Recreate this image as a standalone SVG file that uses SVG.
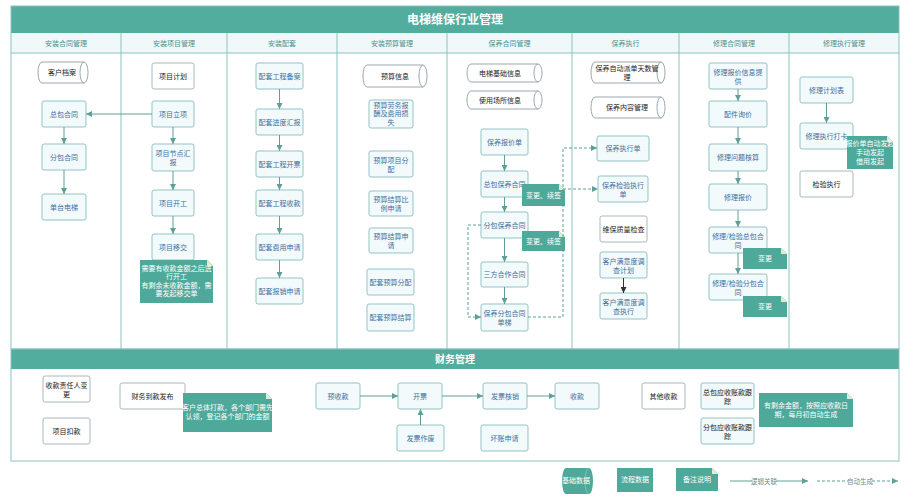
<svg xmlns="http://www.w3.org/2000/svg" width="909" height="500" viewBox="0 0 909 500">
<style>
.bg{fill:#ffffff}
.frame{fill:none;stroke:#8cc3bf;stroke-width:1}
.bar{fill:#52ad9f}
.hdr{fill:#eff9fa}
.box{fill:#f2fafb;stroke:#93c3c4;stroke-width:1}
.wbox{fill:#ffffff;stroke:#aab8bb;stroke-width:1}
.cyl{fill:#ffffff;stroke:#9aa9ad;stroke-width:1}
.note{fill:#4fa99a}
.fold{fill:#dcefd6}
.t{font-family:"Noto Sans CJK SC","Noto Sans",sans-serif;font-size:7px;fill:#3f6fa0;text-anchor:middle}
.tk{fill:#222222}
.tw{fill:#ffffff}
.th{font-family:"Noto Sans CJK SC","Noto Sans",sans-serif;font-size:7px;fill:#4f8f8b;text-anchor:middle}
.title{font-family:"Noto Sans CJK SC","Noto Sans",sans-serif;font-weight:bold;fill:#ffffff;text-anchor:middle}
.lg{font-family:"Noto Sans CJK SC","Noto Sans",sans-serif;font-size:6.5px;fill:#6a8f8c;text-anchor:middle}
.arr{stroke:#5f9f97;stroke-width:1;fill:none;marker-end:url(#ah)}
.arrk{stroke:#333333;stroke-width:1;fill:none;marker-end:url(#ahk)}
.dash{stroke-dasharray:3 2}
</style>
<defs>
<marker id="ah" markerWidth="6" markerHeight="6" refX="6" refY="3" orient="auto" markerUnits="userSpaceOnUse"><path d="M0,0 L6,3 L0,6 z" fill="#5f9f97"/></marker>
<marker id="ahk" markerWidth="6" markerHeight="6" refX="6" refY="3" orient="auto" markerUnits="userSpaceOnUse"><path d="M0,0 L6,3 L0,6 z" fill="#333333"/></marker>
</defs>
<rect class="bg" x="0" y="0" width="909" height="500"/>

<!-- frames -->
<g id="frame-top">
<rect class="bar" x="11" y="6" width="888" height="27"/>
<rect class="hdr" x="11" y="33" width="888" height="20"/>
<rect class="frame" x="11" y="6" width="888" height="343"/>
<line class="frame" x1="11" y1="53" x2="899" y2="53"/>
<line class="frame" x1="121" y1="33" x2="121" y2="349"/>
<line class="frame" x1="227" y1="33" x2="227" y2="349"/>
<line class="frame" x1="337" y1="33" x2="337" y2="349"/>
<line class="frame" x1="447" y1="33" x2="447" y2="349"/>
<line class="frame" x1="572" y1="33" x2="572" y2="349"/>
<line class="frame" x1="679" y1="33" x2="679" y2="349"/>
<line class="frame" x1="789" y1="33" x2="789" y2="349"/>
<text class="title" x="455" y="24" font-size="12">电梯维保行业管理</text>
<text class="th" x="66" y="46">安装合同管理</text>
<text class="th" x="174" y="46">安装项目管理</text>
<text class="th" x="282" y="46">安装配套</text>
<text class="th" x="392" y="46">安装预算管理</text>
<text class="th" x="509.5" y="46">保养合同管理</text>
<text class="th" x="625.5" y="46">保养执行</text>
<text class="th" x="734" y="46">修理合同管理</text>
<text class="th" x="844" y="46">修理执行管理</text>
</g>
<g id="frame-finance">
<rect class="bar" x="11" y="349" width="888" height="20"/>
<rect class="frame" x="11" y="349" width="888" height="112"/>
<text class="title" x="455" y="363" font-size="10">财务管理</text>
</g>

<!-- column 1 -->
<g id="n-khda"><path class="cyl" d="M42,62 H84 A4,10.5 0 0 1 84,83 H42 A4,10.5 0 0 1 42,62 Z M84,62 A4,10.5 0 0 0 84,83"/><text class="t tk" x="62" y="75">客户档案</text></g>
<g id="n-zbht"><rect class="box" x="42" y="101" width="44" height="26" rx="2"/><text class="t" x="64" y="116.5">总包合同</text></g>
<g id="n-fbht"><rect class="box" x="42" y="144" width="44" height="26" rx="2"/><text class="t" x="64" y="159.5">分包合同</text></g>
<g id="n-dtdt"><rect class="box" x="42" y="194" width="44" height="26" rx="2"/><text class="t" x="64" y="209.5">单台电梯</text></g>

<!-- column 2 -->
<g id="n-xmjh"><rect class="wbox" x="152" y="63" width="42" height="26" rx="2"/><text class="t tk" x="173" y="78.5">项目计划</text></g>
<g id="n-xmlx"><rect class="box" x="152" y="101" width="42" height="26" rx="2"/><text class="t" x="173" y="116.5">项目立项</text></g>
<g id="n-xmjd"><rect class="box" x="152" y="144" width="42" height="27" rx="2"/><text class="t" x="173" y="155.5">项目节点汇<tspan x="173" dy="9">报</tspan></text></g>
<g id="n-xmkg"><rect class="box" x="152" y="190" width="42" height="26" rx="2"/><text class="t" x="173" y="205.5">项目开工</text></g>
<g id="n-xmyj"><rect class="box" x="152" y="234" width="42" height="26" rx="2"/><text class="t" x="173" y="249.5">项目移交</text></g>
<g id="note-xmyj"><path class="note" d="M140,260 H207 L213,266 V303 H140 Z"/><path class="fold" d="M207,260 L213,266 H207 Z"/><text class="t tw" font-size="6.5" x="176.5" y="270.5">需要有收款金额之后进<tspan x="176.5" dy="8.5">行开工</tspan><tspan x="176.5" dy="8.5">有剩余未收款金额，需</tspan><tspan x="176.5" dy="8.5">要发起移交单</tspan></text></g>

<!-- column 3 -->
<g id="n-pt1"><rect class="box" x="256" y="63" width="47" height="26" rx="2"/><text class="t" x="279.5" y="78.5">配套工程备案</text></g>
<g id="n-pt2"><rect class="box" x="256" y="109" width="47" height="26" rx="2"/><text class="t" x="279.5" y="124.5">配套进度汇报</text></g>
<g id="n-pt3"><rect class="box" x="256" y="151" width="47" height="26" rx="2"/><text class="t" x="279.5" y="166.5">配套工程开票</text></g>
<g id="n-pt4"><rect class="box" x="256" y="190" width="47" height="26" rx="2"/><text class="t" x="279.5" y="205.5">配套工程收款</text></g>
<g id="n-pt5"><rect class="box" x="256" y="234" width="47" height="26" rx="2"/><text class="t" x="279.5" y="249.5">配套费用申请</text></g>
<g id="n-pt6"><rect class="box" x="256" y="278" width="47" height="26" rx="2"/><text class="t" x="279.5" y="293.5">配套报销申请</text></g>

<!-- column 4 -->
<g id="n-ysxx"><path class="cyl" d="M367,65 H423 A4,11 0 0 1 423,87 H367 A4,11 0 0 1 367,65 Z M423,65 A4,11 0 0 0 423,87"/><text class="t tk" x="395" y="78.5">预算信息</text></g>
<g id="n-ys1"><rect class="box" x="369" y="100" width="44" height="28" rx="2"/><text class="t" x="391" y="107.5">预算劳务报<tspan x="391" dy="8.5">酬及费用损</tspan><tspan x="391" dy="8.5">失</tspan></text></g>
<g id="n-ys2"><rect class="box" x="369" y="151" width="44" height="26" rx="2"/><text class="t" x="391" y="162.5">预算项目分<tspan x="391" dy="9">配</tspan></text></g>
<g id="n-ys3"><rect class="box" x="369" y="191" width="44" height="25" rx="2"/><text class="t" x="391" y="202">预算结算比<tspan x="391" dy="9">例申请</tspan></text></g>
<g id="n-ys4"><rect class="box" x="369" y="228" width="44" height="25" rx="2"/><text class="t" x="391" y="239">预算结算申<tspan x="391" dy="9">请</tspan></text></g>
<g id="n-ys5"><rect class="box" x="367" y="269" width="47" height="26" rx="2"/><text class="t" x="390.5" y="284.5">配套预算分配</text></g>
<g id="n-ys6"><rect class="box" x="367" y="304" width="47" height="27" rx="2"/><text class="t" x="390.5" y="320">配套预算结算</text></g>

<!-- column 5 -->
<g id="n-dtjc"><path class="cyl" d="M471,64 H538 A4,9 0 0 1 538,82 H471 A4,9 0 0 1 471,64 Z M538,64 A4,9 0 0 0 538,82"/><text class="t tk" x="500" y="75.5">电梯基础信息</text></g>
<g id="n-sycs"><path class="cyl" d="M471,91 H538 A4,9 0 0 1 538,109 H471 A4,9 0 0 1 471,91 Z M538,91 A4,9 0 0 0 538,109"/><text class="t tk" x="500" y="102.5">使用场所信息</text></g>
<g id="n-bybj"><rect class="box" x="481" y="129" width="47" height="26" rx="2"/><text class="t" x="504.5" y="144.5">保养报价单</text></g>
<g id="n-zbby"><rect class="box" x="481" y="171" width="47" height="26" rx="2"/><text class="t" x="504.5" y="186.5">总包保养合同</text></g>
<g id="note-zbby"><path class="note" d="M522,184 H559 L565,190 V206 H522 Z"/><path class="fold" d="M559,184 L565,190 H559 Z"/><text class="t tw" x="543.5" y="197.5">变更、续签</text></g>
<g id="n-fbby"><rect class="box" x="481" y="212" width="47" height="26" rx="2"/><text class="t" x="504.5" y="227.5">分包保养合同</text></g>
<g id="note-fbby"><path class="note" d="M522,231 H559 L565,237 V251 H522 Z"/><path class="fold" d="M559,231 L565,237 H559 Z"/><text class="t tw" x="543.5" y="243.5">变更、续签</text></g>
<g id="n-sfhz"><rect class="box" x="481" y="262" width="47" height="25" rx="2"/><text class="t" x="504.5" y="277">三方合作合同</text></g>
<g id="n-fbdt"><rect class="box" x="481" y="304" width="47" height="27" rx="2"/><text class="t" x="504.5" y="315.5">保养分包合同<tspan x="504.5" dy="9">单梯</tspan></text></g>

<!-- column 6 -->
<g id="n-pdts"><path class="cyl" d="M595,62 H661 A4,10.5 0 0 1 661,83 H595 A4,10.5 0 0 1 595,62 Z M661,62 A4,10.5 0 0 0 661,83"/><text class="t tk" x="627" y="71">保养自动派单天数管<tspan x="627" dy="9">理</tspan></text></g>
<g id="n-nrgl"><path class="cyl" d="M595,97 H661 A4,10.5 0 0 1 661,118 H595 A4,10.5 0 0 1 595,97 Z M661,97 A4,10.5 0 0 0 661,118"/><text class="t tk" x="627" y="110">保养内容管理</text></g>
<g id="n-byzx"><rect class="box" x="597" y="136" width="52" height="25" rx="2"/><text class="t" x="623" y="151">保养执行单</text></g>
<g id="n-byjy"><rect class="box" x="598" y="176" width="50" height="26" rx="2"/><text class="t" x="623" y="187.5">保养检验执行<tspan x="623" dy="9">单</tspan></text></g>
<g id="n-zljc"><rect class="wbox" x="600" y="216" width="47" height="26" rx="2"/><text class="t tk" x="623.5" y="231.5">维保质量检查</text></g>
<g id="n-mydjh"><rect class="box" x="600" y="252" width="47" height="26" rx="2"/><text class="t" x="623.5" y="263.5">客户满意度调<tspan x="623.5" dy="9">查计划</tspan></text></g>
<g id="n-mydzx"><rect class="box" x="600" y="293" width="47" height="26" rx="2"/><text class="t" x="623.5" y="304.5">客户满意度调<tspan x="623.5" dy="9">查执行</tspan></text></g>

<!-- column 7 -->
<g id="n-xlbjxx"><rect class="box" x="709" y="63" width="58" height="26" rx="2"/><text class="t" x="738" y="74.5">修理报价信息提<tspan x="738" dy="9">供</tspan></text></g>
<g id="n-pjxj"><rect class="box" x="709" y="101" width="58" height="26" rx="2"/><text class="t" x="738" y="116.5">配件询价</text></g>
<g id="n-xlhs"><rect class="box" x="709" y="144" width="58" height="27" rx="2"/><text class="t" x="738" y="160">修理问题核算</text></g>
<g id="n-xlbj"><rect class="box" x="709" y="184" width="58" height="26" rx="2"/><text class="t" x="738" y="199.5">修理报价</text></g>
<g id="n-xlzb"><rect class="box" x="709" y="227" width="58" height="26" rx="2"/><text class="t" x="738" y="238.5">修理/检验总包合<tspan x="738" dy="9">同</tspan></text></g>
<g id="note-xlzb"><path class="note" d="M743,248 H781 L787,254 V269 H743 Z"/><path class="fold" d="M781,248 L787,254 H781 Z"/><text class="t tw" x="765" y="261">变更</text></g>
<g id="n-xlfb"><rect class="box" x="709" y="274" width="58" height="26" rx="2"/><text class="t" x="738" y="285.5">修理/检验分包合<tspan x="738" dy="9">同</tspan></text></g>
<g id="note-xlfb"><path class="note" d="M743,296 H781 L787,302 V317 H743 Z"/><path class="fold" d="M781,296 L787,302 H781 Z"/><text class="t tw" x="765" y="309">变更</text></g>

<!-- column 8 -->
<g id="n-xljh"><rect class="box" x="800" y="77" width="53" height="26" rx="2"/><text class="t" x="826.5" y="92.5">修理计划表</text></g>
<g id="n-xldk"><rect class="box" x="800" y="123" width="53" height="26" rx="2"/><text class="t" x="826.5" y="138.5">修理执行打卡</text></g>
<g id="note-xldk"><path class="note" d="M847,136 H887 L893,142 V169 H847 Z"/><path class="fold" d="M887,136 L893,142 H887 Z"/><text class="t tw" font-size="5.6" x="870" y="146">报价单自动发起<tspan x="870" dy="9">手动发起</tspan><tspan x="870" dy="9">借用发起</tspan></text></g>
<g id="n-jyzx"><rect class="wbox" x="800" y="171" width="53" height="26" rx="2"/><text class="t tk" x="826.5" y="186.5">检验执行</text></g>

<!-- finance -->
<g id="n-skzr"><rect class="wbox" x="43" y="376" width="47" height="26" rx="2"/><text class="t tk" x="66.5" y="387.5">收款责任人变<tspan x="66.5" dy="9">更</tspan></text></g>
<g id="n-xmkk"><rect class="wbox" x="43" y="418" width="47" height="26" rx="2"/><text class="t tk" x="66.5" y="433.5">项目扣款</text></g>
<g id="n-cwdk"><rect class="wbox" x="120" y="383" width="65" height="26" rx="2"/><text class="t tk" x="152.5" y="398.5">财务到款发布</text></g>
<g id="note-cwdk"><path class="note" d="M183,393 H266 L272,399 V432 H183 Z"/><path class="fold" d="M266,393 L272,399 H266 Z"/><text class="t tw" font-size="6.2" x="227.5" y="410">客户总体打款，各个部门需先<tspan x="227.5" dy="9">认领，登记各个部门的金额</tspan></text></g>
<g id="n-ysk"><rect class="box" x="316" y="383" width="44" height="26" rx="2"/><text class="t" x="338" y="398.5">预收款</text></g>
<g id="n-kp"><rect class="box" x="398" y="383" width="44" height="26" rx="2"/><text class="t" x="420" y="398.5">开票</text></g>
<g id="n-fphx"><rect class="box" x="483" y="383" width="44" height="26" rx="2"/><text class="t" x="505" y="398.5">发票核销</text></g>
<g id="n-sk"><rect class="box" x="555" y="383" width="44" height="26" rx="2"/><text class="t" x="577" y="398.5">收款</text></g>
<g id="n-fpzf"><rect class="box" x="397" y="425" width="47" height="26" rx="2"/><text class="t" x="420.5" y="440.5">发票作废</text></g>
<g id="n-hzsq"><rect class="box" x="481" y="425" width="47" height="26" rx="2"/><text class="t" x="504.5" y="440.5">坏账申请</text></g>
<g id="n-qtsk"><rect class="wbox" x="642" y="383" width="43" height="26" rx="2"/><text class="t tk" x="663.5" y="398.5">其他收款</text></g>
<g id="n-zbys"><rect class="box" x="701" y="383" width="53" height="26" rx="2"/><text class="t tk" x="727.5" y="394.5">总包应收账款跟<tspan x="727.5" dy="9">踪</tspan></text></g>
<g id="n-fbys"><rect class="box" x="701" y="418" width="53" height="26" rx="2"/><text class="t tk" x="727.5" y="429.5">分包应收账款跟<tspan x="727.5" dy="9">踪</tspan></text></g>
<g id="note-ys"><path class="note" d="M759,393 H847 L853,399 V427 H759 Z"/><path class="fold" d="M847,393 L853,399 H847 Z"/><text class="t tw" font-size="6.5" x="806" y="407.5">有剩余金额，按照应收款日<tspan x="806" dy="9">期，每月初自动生成</tspan></text></g>

<!-- connectors -->
<g id="connectors">
<path class="arr" d="M152,114 H86"/>
<path class="arr" d="M64,127 V144"/>
<path class="arr" d="M64,170 V194"/>
<path class="arr" d="M173,127 V144"/>
<path class="arr" d="M173,171 V190"/>
<path class="arr" d="M173,216 V234"/>
<path class="arr" d="M279.5,89 V109"/>
<path class="arr" d="M279.5,135 V151"/>
<path class="arr" d="M279.5,177 V190"/>
<path class="arr" d="M279.5,216 V234"/>
<path class="arr" d="M279.5,260 V278"/>
<path class="arr" d="M504.5,155 V171"/>
<path class="arr" d="M504.5,197 V212"/>
<path class="arr" d="M504.5,238 V262"/>
<path class="arr" d="M504.5,287 V304"/>
<path class="arr dash" d="M481,225 H468 V317 H481"/>
<path class="arr dash" d="M528,317 H563 V148 H597"/>
<path class="arr dash" d="M563,189 H598"/>
<path class="arrk" d="M623.5,278 V293"/>
<path class="arr" d="M738,89 V101"/>
<path class="arr" d="M738,127 V144"/>
<path class="arr" d="M738,171 V184"/>
<path class="arr" d="M738,210 V227"/>
<path class="arr" d="M738,253 V274"/>
<path class="arr" d="M826.5,103 V123"/>
<path class="arr" d="M360,396 H398"/>
<path class="arr" d="M442,396 H483"/>
<path class="arr" d="M527,396 H555"/>
<path class="arr" d="M420.5,425 V409"/>
</g>

<!-- legend -->
<g id="legend">
<path d="M566,468 H589 A4,13 0 0 1 589,494 H566 A4,13 0 0 1 566,468 Z" fill="#4fa99a"/>
<path d="M589,468 A4,13 0 0 0 589,494" fill="none" stroke="#7cc3b6" stroke-width="1"/>
<text class="t tw" font-size="6" x="576" y="483">基础数据</text>
<rect x="617" y="468" width="36" height="24" fill="#4fa99a"/>
<text class="t tw" font-size="6" x="635" y="482">流程数据</text>
<path class="note" d="M676,468 H712 L718,474 V491 H676 Z"/><path class="fold" d="M712,468 L718,474 H712 Z"/>
<text class="t tw" font-size="6" x="697" y="482">备注说明</text>
<line x1="730" y1="481" x2="752" y2="481" stroke="#5f9f97"/>
<path class="arr" d="M776,481 H808"/>
<text class="lg" x="764" y="483.5">逻辑关联</text>
<line class="dash" x1="817" y1="481" x2="848" y2="481" stroke="#5f9f97"/>
<path class="arr dash" d="M872,481 H898"/>
<text class="lg" x="860" y="483.5">自动生成</text>
</g>
</svg>
